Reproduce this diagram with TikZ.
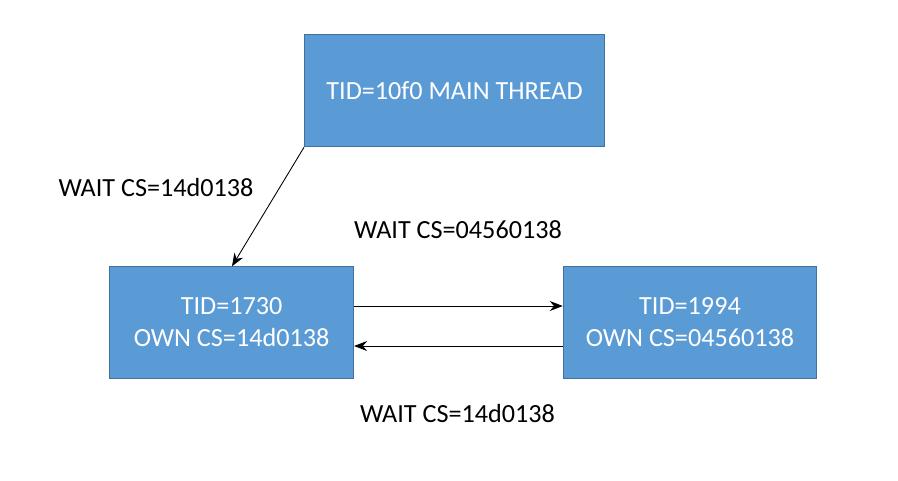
\documentclass[tikz,border=0pt]{standalone}
\usepackage{fontspec}
\setmainfont{Carlito}
\usetikzlibrary{arrows.meta,positioning}

\begin{document}
\begin{tikzpicture}[
    x=0.02cm,y=-0.02cm,>={Stealth[length=2.6mm,width=2mm]},
    thread/.style={rectangle,draw=threadedge,fill=threadfill,
        line width=0.6pt,text=white,align=center,inner sep=0mm,
        minimum height=2.24cm,font=\fontsize{14.9}{18.2}\selectfont},
    waitlabel/.style={text=black,inner sep=0mm,font=\fontsize{14.9}{18.2}\selectfont},
    wait/.style={->,line width=0.5pt}
]
 \definecolor{threadfill}{HTML}{5B9BD5}
 \definecolor{threadedge}{HTML}{41719C}
 \useasboundingbox (0,0) rectangle (898,480);

 \node[thread,minimum width=6.0cm] (main) at (454.5,90.8) {TID=10f0 MAIN THREAD};
 \node[thread,minimum width=4.88cm] (t1730) at (231.6,322.5) {TID=1730\\OWN CS=14d0138};
 \node[thread,minimum width=5.07cm] (t1994) at (690,322.5) {TID=1994\\OWN CS=04560138};

 \node[waitlabel] (w1) at (156,188) {WAIT CS=14d0138};
 \node[waitlabel] (w2) at (458,230) {WAIT CS=04560138};
 \node[waitlabel] (w3) at (457.5,413) {WAIT CS=14d0138};

 \coordinate (hit) at (232,266.3);
 \draw[wait] (main.south west) -- (hit);
 \draw[wait] (t1730.east |- 0,306) -- (t1994.west |- 0,306);
 \draw[wait] (t1994.west |- 0,346) -- (t1730.east |- 0,346);
\end{tikzpicture}
\end{document}
